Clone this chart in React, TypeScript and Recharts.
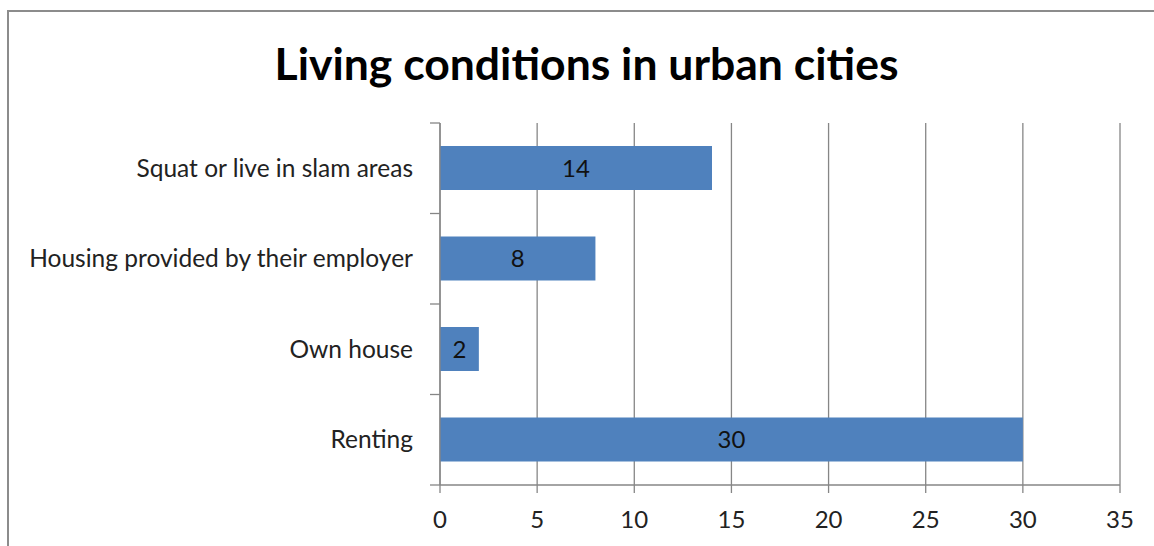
import React from 'react';
import { BarChart, Bar, XAxis, YAxis, CartesianGrid, LabelList } from 'recharts';

const categories = ['Squat or live in slam areas', 'Housing provided by their employer', 'Own house', 'Renting'];
const counts = [14, 8, 2, 30];
const xTicks = [0, 5, 10, 15, 20, 25, 30, 35];

const data = categories.map((name, i) => ({ name, value: counts[i] }));

const FONT = 'Lato, "Open Sans", sans-serif';
const AXIS_GRAY = '#868686';

const CategoryTick = (props: any) => {
  const { x, y, payload, index, visibleTicksCount } = props;
  const half = payload && payload.offset ? payload.offset : 45.25;
  const axisX = x + 27;
  return (
    <g>
      <line x1={axisX - 10} x2={axisX} y1={y - half} y2={y - half} stroke={AXIS_GRAY} strokeWidth={1.3} />
      {index === visibleTicksCount - 1 && (
        <line x1={axisX - 10} x2={axisX} y1={y + half} y2={y + half} stroke={AXIS_GRAY} strokeWidth={1.3} />
      )}
      <text x={x} y={y} dy="0.35em" textAnchor="end" fontSize={24.5} fontFamily={FONT} fill="#222">
        {payload.value}
      </text>
    </g>
  );
};

export default function App() {
  return (
    <div style={{ position: 'fixed', left: 0, top: 0, width: 1154, height: 546, overflow: 'hidden', background: '#fff' }}>
      <div
        style={{
          position: 'absolute',
          left: 7,
          top: 10,
          width: 1200,
          height: 600,
          border: '2px solid #8c8c8c',
          boxSizing: 'border-box',
        }}
      />
      <div
        style={{
          position: 'absolute',
          left: 0,
          top: 36,
          width: 1173,
          textAlign: 'center',
          fontFamily: FONT,
          fontWeight: 700,
          fontSize: 44.5,
          lineHeight: '54px',
          color: '#000',
        }}
      >
        Living conditions in urban cities
      </div>
      <div style={{ position: 'absolute', left: 0, top: 0 }}>
        <BarChart
          width={1154}
          height={546}
          data={data}
          layout="vertical"
          margin={{ top: 123, right: 34, bottom: 0, left: 0 }}
          barCategoryGap="25.5%"
        >
          <CartesianGrid horizontal={false} stroke={AXIS_GRAY} strokeWidth={1.3} />
          <XAxis
            type="number"
            domain={[0, 35]}
            ticks={xTicks}
            interval={0}
            height={61}
            tickSize={8}
            tickMargin={18}
            stroke={AXIS_GRAY}
            strokeWidth={1.3}
            tick={{ fontSize: 24, fontFamily: FONT, fill: '#222' }}
          />
          <YAxis
            type="category"
            dataKey="name"
            width={440}
            tickLine={false}
            tickSize={10}
            tickMargin={17}
            stroke={AXIS_GRAY}
            strokeWidth={1.3}
            tick={<CategoryTick />}
            interval={0}
          />
          <Bar dataKey="value" fill="#4F81BD" isAnimationActive={false}>
            <LabelList dataKey="value" position="center" fill="#111" fontSize={24} fontFamily={FONT} />
          </Bar>
        </BarChart>
      </div>
    </div>
  );
}
